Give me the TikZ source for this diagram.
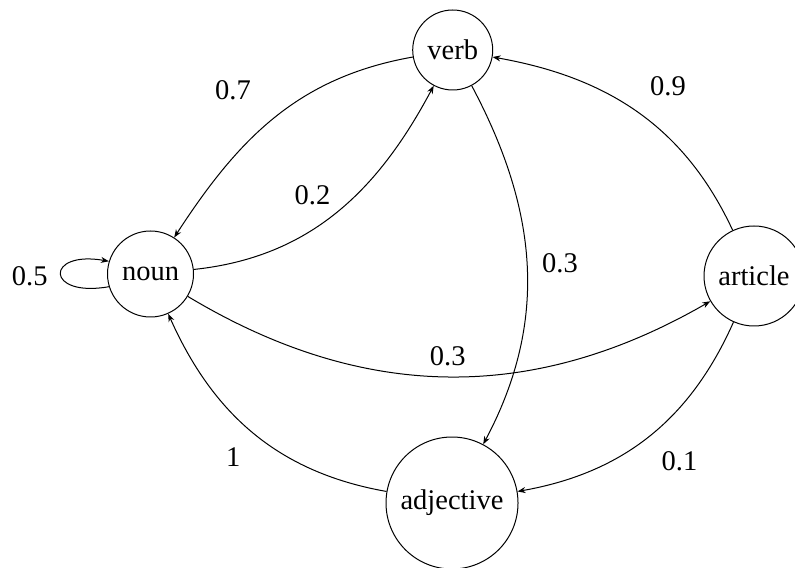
\documentclass[tikz,border=0pt]{standalone}
\usepackage{fontspec}
\setmainfont{Liberation Serif}
\newfontfamily\tmsfont{Liberation Serif}
\usetikzlibrary{arrows.meta}
\begin{document}
\begin{tikzpicture}[x=0.5pt,y=0.5pt,
  state/.style={draw, circle, line width=0.5pt, inner sep=0pt, font=\tmsfont\fontsize{14.25}{17}\selectfont},
  lbl/.style={inner sep=0pt, font=\tmsfont\fontsize{14.25}{17}\selectfont},
  edge/.style={line width=0.5pt, -{Stealth[length=4pt,width=3pt]}}]
\useasboundingbox (0,0) rectangle (795,567);
\node[state, minimum size=40pt] (verb) at (452.7,517) {verb};
\node[state, minimum size=43pt] (noun) at (150.5,293) {noun};
\node[state, minimum size=50pt] (article) at (754,291) {article};
\node[state, minimum size=66pt] (adjective) at (452,64) {adjective};
\draw[edge] (verb) to[out=190,in=57] (noun);
\draw[edge] (noun) to[out=6,in=242] (verb);
\draw[edge] (article) to[out=115,in=350] (verb);
\draw[edge] (verb) to[out=298,in=62] (adjective);
\draw[edge] (noun) to[out=-31,in=210] (article);
\draw[edge] (article) to[out=246,in=10] (adjective);
\draw[edge] (adjective) to[out=170,in=294] (noun);
\draw[edge] (noun.197) .. controls +(190:65) and +(170:65) .. (noun.163);
\node[lbl] (l07) at (233,477) {0.7};
\node[lbl] (l02) at (312.5,372) {0.2};
\node[lbl] (l09) at (668,480.3) {0.9};
\node[lbl] (l03a) at (560,303.7) {0.3};
\node[lbl] (l03b) at (447.8,210.3) {0.3};
\node[lbl] (l01) at (679.5,105.3) {0.1};
\node[lbl] (l1) at (233.3,109.7) {1};
\node[lbl] (l05) at (29.7,290.7) {0.5};
\end{tikzpicture}
\end{document}
